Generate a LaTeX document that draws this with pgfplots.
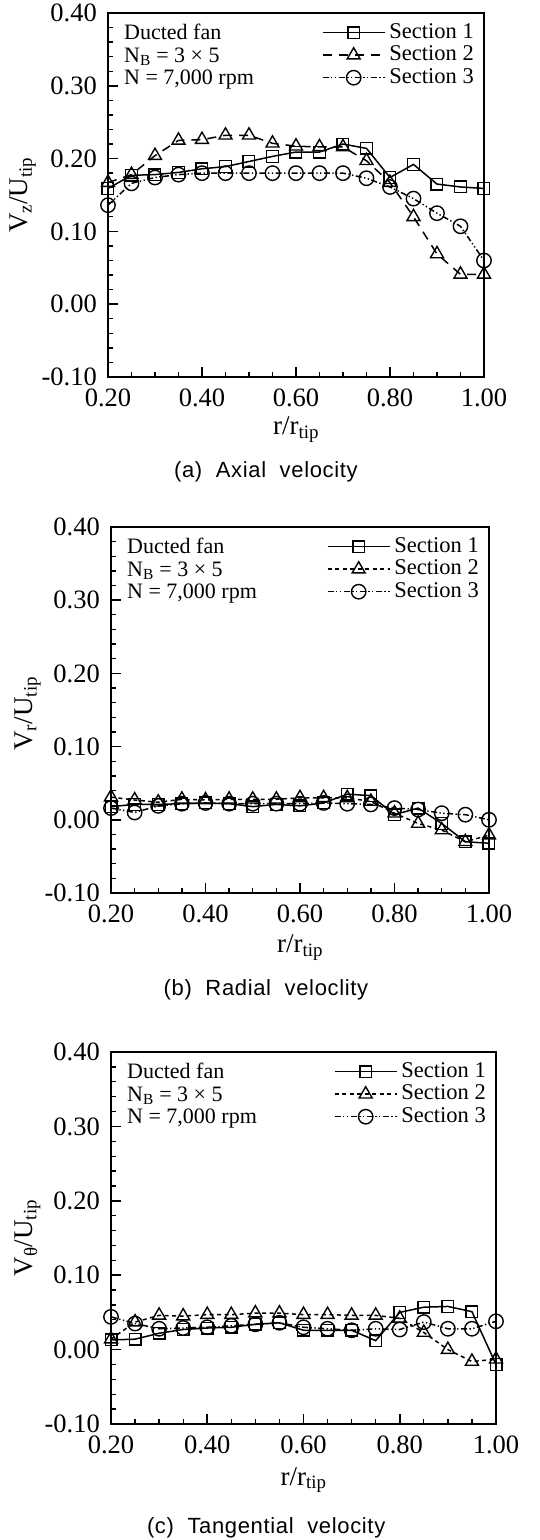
\documentclass[border=0pt]{standalone}
\usepackage{fontspec}
\setmainfont{Liberation Serif}
\newfontfamily\capfont[LetterSpace=3]{Liberation Sans}
\usepackage{pgfplots}
\pgfplotsset{compat=1.18}

\pgfplotsset{
  velaxis/.style={
    scale only axis, clip=false,
    xmin=0.2, xmax=1.0, ymin=-0.1, ymax=0.4,
    xtick={0.2,0.4,0.6,0.8,1.0}, xticklabels={0.20,0.40,0.60,0.80,1.00},
    ytick={-0.1,0,0.1,0.2,0.3,0.4}, yticklabels={-0.10,0.00,0.10,0.20,0.30,0.40},
    minor x tick num=3, minor y tick num=4,
    tick align=inside, tick pos=left,
    major tick length=10pt, minor tick length=5pt,
    major tick style={black, line width=1.6pt},
    minor tick style={black, line width=1.3pt},
    axis line style={black, line width=2pt},
    xticklabel style={font=\fontsize{26.5}{26.5}\selectfont, inner sep=0pt, yshift=-12pt},
    yticklabel style={font=\fontsize{26.5}{26.5}\selectfont, inner sep=0pt, xshift=-11pt},
    label style={font=\fontsize{27}{27}\selectfont},
    xlabel={r/r\textsubscript{tip}},
    xlabel style={at={(axis description cs:0.5,0)}, anchor=base},
    ylabel style={anchor=center},
    legend cell align=left,
    legend style={at={(axis description cs:1,1)}, anchor=north east,
      xshift=-10pt, yshift=-10pt, draw=none, fill=none, inner sep=0pt,
      font=\fontsize{22.5}{22.5}\selectfont, row sep=3.5pt, column sep=4pt,
      nodes={inner sep=0pt, text height=15pt, text depth=4pt}},
    legend image code/.code={\draw[mark repeat=2, mark phase=2, #1]
      plot coordinates {(0pt,0pt) (31pt,0pt) (62pt,0pt)};},
  },
  s1/.style={black, line width=1.5pt, mark=square, mark size=5.8pt,
    mark options={solid, line width=1.4pt}},
  s2long/.style={black, line width=1.5pt, dash pattern=on 9pt off 7pt,
    mark=triangle, mark size=7.5pt, mark options={solid, line width=1.4pt}},
  s2short/.style={black, line width=1.5pt, dash pattern=on 4pt off 3.5pt,
    mark=triangle, mark size=7.5pt, mark options={solid, line width=1.4pt}},
  s3/.style={black, line width=1.5pt,
    dash pattern=on 6pt off 2.5pt on 1.3pt off 2.5pt on 1.3pt off 2.5pt,
    mark=o, mark size=7.2pt, mark options={solid, line width=1.4pt}},
}

\newcommand{\infobox}{\node[anchor=north west, inner sep=0pt, align=left,
    xshift=16pt, yshift=-11pt, font=\fontsize{22}{22.5}\selectfont]
    at (axis description cs:0,1) {Ducted fan\\N\textsubscript{B} = 3 × 5\\N = 7,000 rpm};}

\begin{document}
\begin{tikzpicture}
\useasboundingbox (0pt,0pt) rectangle (539pt,1540pt);

% (a) axial
\begin{axis}[velaxis, at={(108pt,1163pt)}, anchor=south west,
    width=376pt, height=364pt,
    ylabel={V\textsubscript{z}/U\textsubscript{tip}},
    ylabel style={at={(axis description cs:-0.226,0.5)}},
    xlabel style={yshift=-58pt}]
  \addplot[s1] coordinates {
    (0.20,0.159) (0.25,0.177) (0.30,0.178) (0.35,0.181) (0.40,0.186) (0.45,0.189)
    (0.50,0.196) (0.55,0.203) (0.60,0.209) (0.65,0.209) (0.70,0.220) (0.75,0.214)
    (0.80,0.174) (0.85,0.192) (0.90,0.165) (0.95,0.161) (1.00,0.159)};
  \addlegendentry{Section 1}
  \addplot[s2long] coordinates {
    (0.20,0.167) (0.25,0.178) (0.30,0.204) (0.35,0.225) (0.40,0.226) (0.45,0.232)
    (0.50,0.232) (0.55,0.221) (0.60,0.217) (0.65,0.216) (0.70,0.216) (0.75,0.197)
    (0.80,0.167) (0.85,0.120) (0.90,0.069) (0.95,0.041) (1.00,0.041)};
  \addlegendentry{Section 2}
  \addplot[s3] coordinates {
    (0.20,0.136) (0.25,0.166) (0.30,0.174) (0.35,0.178) (0.40,0.180) (0.45,0.180)
    (0.50,0.180) (0.55,0.180) (0.60,0.180) (0.65,0.180) (0.70,0.180) (0.75,0.173)
    (0.80,0.161) (0.85,0.145) (0.90,0.125) (0.95,0.107) (1.00,0.060)};
  \addlegendentry{Section 3}
  \infobox
  \node[anchor=base, font=\capfont\fontsize{22}{22}\selectfont, yshift=-101pt]
    at (axis description cs:0.420,0) {(a)\ \ Axial\ \ velocity};
\end{axis}

% (b) radial
\begin{axis}[velaxis, at={(111pt,647pt)}, anchor=south west,
    width=378pt, height=366pt,
    ylabel={V\textsubscript{r}/U\textsubscript{tip}},
    ylabel style={at={(axis description cs:-0.220,0.49)}},
    xlabel style={yshift=-60pt}]
  \addplot[s1] coordinates {
    (0.20,0.018) (0.25,0.021) (0.30,0.021) (0.35,0.022) (0.40,0.023) (0.45,0.022)
    (0.50,0.018) (0.55,0.021) (0.60,0.019) (0.65,0.023) (0.70,0.035) (0.75,0.033)
    (0.80,0.007) (0.85,0.016) (0.90,-0.005) (0.95,-0.030) (1.00,-0.032)};
  \addlegendentry{Section 1}
  \addplot[s2short] coordinates {
    (0.20,0.031) (0.25,0.027) (0.30,0.024) (0.35,0.028) (0.40,0.027) (0.45,0.028)
    (0.50,0.028) (0.55,0.028) (0.60,0.030) (0.65,0.030) (0.70,0.030) (0.75,0.025)
    (0.80,0.009) (0.85,-0.005) (0.90,-0.014) (0.95,-0.030) (1.00,-0.021)};
  \addlegendentry{Section 2}
  \addplot[s3] coordinates {
    (0.20,0.016) (0.25,0.010) (0.30,0.019) (0.35,0.022) (0.40,0.023) (0.45,0.022)
    (0.50,0.022) (0.55,0.022) (0.60,0.022) (0.65,0.023) (0.70,0.022) (0.75,0.021)
    (0.80,0.016) (0.85,0.014) (0.90,0.009) (0.95,0.007) (1.00,0.000)};
  \addlegendentry{Section 3}
  \infobox
  \node[anchor=base, font=\capfont\fontsize{22}{22}\selectfont, yshift=-103pt]
    at (axis description cs:0.410,0) {(b)\ \ Radial\ \ veloclity};
\end{axis}

% (c) tangential
\begin{axis}[velaxis, at={(111pt,116pt)}, anchor=south west,
    width=385pt, height=372pt,
    ylabel={V\textsubscript{θ}/U\textsubscript{tip}},
    ylabel style={at={(axis description cs:-0.217,0.5)}},
    xlabel style={yshift=-61pt}]
  \addplot[s1] coordinates {
    (0.20,0.013) (0.25,0.014) (0.30,0.022) (0.35,0.027) (0.40,0.029) (0.45,0.030)
    (0.50,0.034) (0.55,0.036) (0.60,0.026) (0.65,0.026) (0.70,0.026) (0.75,0.012)
    (0.80,0.050) (0.85,0.057) (0.90,0.058) (0.95,0.051) (1.00,-0.020)};
  \addlegendentry{Section 1}
  \addplot[s2short] coordinates {
    (0.20,0.014) (0.25,0.037) (0.30,0.046) (0.35,0.045) (0.40,0.047) (0.45,0.047)
    (0.50,0.049) (0.55,0.049) (0.60,0.047) (0.65,0.047) (0.70,0.046) (0.75,0.046)
    (0.80,0.042) (0.85,0.023) (0.90,0.000) (0.95,-0.016) (1.00,-0.013)};
  \addlegendentry{Section 2}
  \addplot[s3] coordinates {
    (0.20,0.044) (0.25,0.035) (0.30,0.028) (0.35,0.029) (0.40,0.030) (0.45,0.032)
    (0.50,0.034) (0.55,0.036) (0.60,0.030) (0.65,0.028) (0.70,0.026) (0.75,0.028)
    (0.80,0.027) (0.85,0.037) (0.90,0.028) (0.95,0.028) (1.00,0.038)};
  \addlegendentry{Section 3}
  \infobox
  \node[anchor=base, font=\capfont\fontsize{22}{22}\selectfont, yshift=-109pt]
    at (axis description cs:0.403,0) {(c)\ \ Tangential\ \ velocity};
\end{axis}
\end{tikzpicture}
\end{document}
